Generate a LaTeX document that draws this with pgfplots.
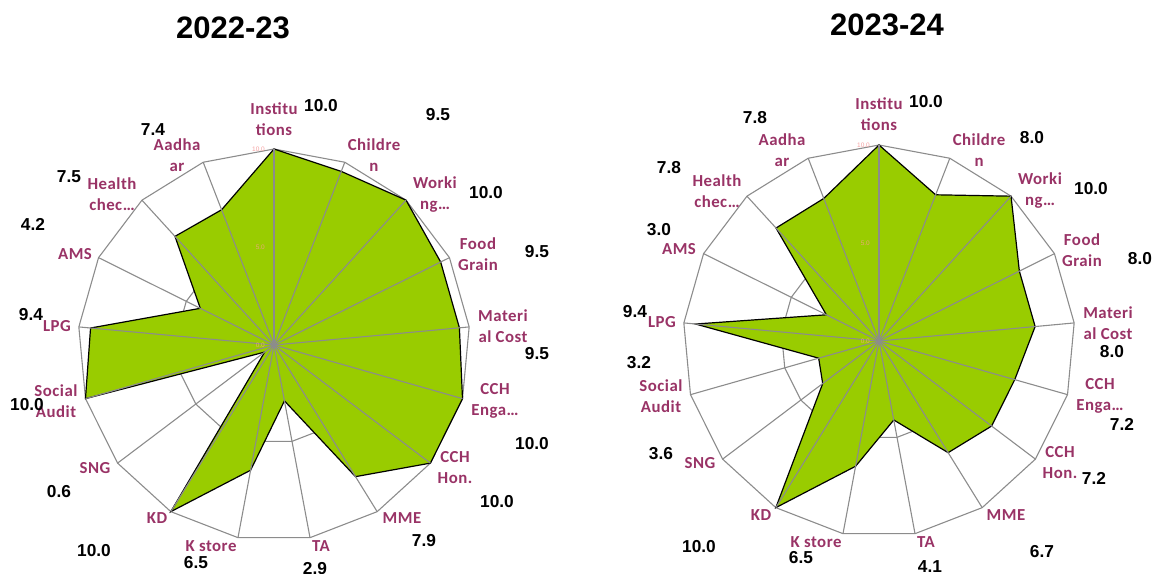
\documentclass[border=0pt]{standalone}
\usepackage{pgfplots}
\pgfplotsset{compat=1.18}
\usepackage{pgfplotstable}
\usepgfplotslibrary{polar}
\usepackage{fontspec}
\setmainfont{Liberation Sans}
\newfontfamily\calfont[LetterSpace=3]{Carlito}
\definecolor{fillgreen}{HTML}{99CC00}
\definecolor{catcol}{HTML}{993366}
\definecolor{gridgray}{HTML}{8C8C8C}
\definecolor{tickpink}{HTML}{F4A0A0}
\definecolor{tickorange}{HTML}{E8A878}

\pgfplotstableread{
angle v1 v2
90.0000 10.0 10.0
68.8235 9.5 8.0
47.6471 10.0 10.0
26.4706 9.5 8.0
5.2941 9.5 8.0
344.1176 10.0 7.2
322.9412 10.0 7.2
301.7647 7.9 6.7
280.5882 2.9 4.1
259.4118 6.5 6.5
238.2353 10.0 10.0
217.0588 0.6 3.6
195.8824 10.0 3.2
174.7059 9.4 9.4
153.5294 4.2 3.0
132.3529 7.5 7.8
111.1765 7.4 7.8
}\radardata

\pgfplotsset{
  radar/.style={hide axis, scale only axis, width=392pt, height=392pt,
    xmin=0, xmax=360, ymin=0, ymax=10, anchor=origin, clip=false},
  gridline/.style={gridgray, line width=1.1pt, mark=none},
}
\tikzset{
  cat/.style={font=\calfont\bfseries\fontsize{16.8}{21}\selectfont, text=catcol, align=center, inner sep=0pt},
  val/.style={font=\bfseries\fontsize{17.3}{20}\selectfont, inner sep=0pt},
  ttl/.style={font=\bfseries\fontsize{31}{36}\selectfont, inner sep=0pt},
  tk/.style={font=\fontsize{6.5}{7}\selectfont, inner sep=0pt, anchor=east, xshift=-9pt},
}

\newcommand\radar[1]{%
  \addplot[gridline] table[x=angle, y expr=10]{\radardata} -- cycle;
  \addplot[gridline] table[x=angle, y expr=5]{\radardata} -- cycle;
  \addplot[fill=fillgreen, draw=black, line width=1.2pt, mark=none] table[x=angle, y=#1]{\radardata} -- cycle;
  \pgfplotsinvokeforeach{90.0000,68.8235,47.6471,26.4706,5.2941,344.1176,322.9412,301.7647,280.5882,259.4118,238.2353,217.0588,195.8824,174.7059,153.5294,132.3529,111.1765}{%
    \addplot[gridline] coordinates {(##1,0) (##1,10)};}
  \node[tk, text=tickpink] at (axis cs:90,10) {10.0};
  \node[tk, text=tickorange] at (axis cs:90,5) {5.0};
  \node[tk, text=tickorange] at (axis cs:90,0) {0.0};
}

\begin{document}
\begin{tikzpicture}[x=1pt,y=1pt]
\useasboundingbox (0,0) rectangle (1153,-573);

\begin{polaraxis}[radar, at={(274pt,-345pt)}]
\radar{v1}
\end{polaraxis}

\begin{polaraxis}[radar, at={(879pt,-341pt)}]
\radar{v2}
\end{polaraxis}

% titles
\node[ttl] at (233,-28) {2022-23};
\node[ttl] at (887,-25) {2023-24};

% chart 1 category labels
\node[cat] at (274,-119) {Institu\\tions};
\node[cat] at (374,-155) {Childre\\n};
\node[cat] at (435,-195) {Worki\\ng…};
\node[cat] at (478,-254) {Food\\Grain};
\node[cat] at (503,-326) {Materi\\al Cost};
\node[cat] at (495,-401) {CCH\\Enga…};
\node[cat] at (455,-468) {CCH\\Hon.};
\node[cat] at (402,-518) {MME};
\node[cat] at (321,-546) {TA};
\node[cat] at (211,-546) {K store};
\node[cat] at (157,-518) {KD};
\node[cat] at (95,-468) {SNG};
\node[cat] at (56,-401) {Social\\Audit};
\node[cat] at (57,-326) {LPG};
\node[cat] at (75,-254) {AMS};
\node[cat] at (112,-194) {Health\\chec…};
\node[cat] at (177,-155) {Aadha\\ar};

% chart 1 value labels
\node[val] at (321,-106) {10.0};
\node[val] at (438,-115) {9.5};
\node[val] at (486,-193) {10.0};
\node[val] at (537,-252) {9.5};
\node[val] at (537,-354) {9.5};
\node[val] at (532,-444) {10.0};
\node[val] at (497,-502) {10.0};
\node[val] at (424,-541) {7.9};
\node[val] at (315,-569) {2.9};
\node[val] at (196,-563) {6.5};
\node[val] at (94,-551) {10.0};
\node[val] at (59,-492) {0.6};
\node[val] at (27,-405) {10.0};
\node[val] at (31,-315) {9.4};
\node[val] at (33,-224) {4.2};
\node[val] at (69,-177) {7.5};
\node[val] at (153,-130) {7.4};

% chart 2 category labels
\node[cat] at (879,-114) {Institu\\tions};
\node[cat] at (979,-150) {Childre\\n};
\node[cat] at (1040,-191) {Worki\\ng…};
\node[cat] at (1082,-250) {Food\\Grain};
\node[cat] at (1108,-323) {Materi\\al Cost};
\node[cat] at (1100,-396) {CCH\\Enga…};
\node[cat] at (1060,-463) {CCH\\Hon.};
\node[cat] at (1006,-515) {MME};
\node[cat] at (926,-542) {TA};
\node[cat] at (816,-542) {K store};
\node[cat] at (761,-515) {KD};
\node[cat] at (700,-463) {SNG};
\node[cat] at (661,-396) {Social\\Audit};
\node[cat] at (662,-322) {LPG};
\node[cat] at (679,-249) {AMS};
\node[cat] at (717,-191) {Health\\chec…};
\node[cat] at (782,-150) {Aadha\\ar};

% chart 2 value labels
\node[val] at (926,-102) {10.0};
\node[val] at (1032,-138) {8.0};
\node[val] at (1091,-189) {10.0};
\node[val] at (1140,-259) {8.0};
\node[val] at (1112,-352) {8.0};
\node[val] at (1122,-424) {7.2};
\node[val] at (1094,-478) {7.2};
\node[val] at (1042,-552) {6.7};
\node[val] at (930,-567) {4.1};
\node[val] at (801,-558) {6.5};
\node[val] at (699,-547) {10.0};
\node[val] at (661,-454) {3.6};
\node[val] at (639,-363) {3.2};
\node[val] at (635,-312) {9.4};
\node[val] at (659,-230) {3.0};
\node[val] at (669,-168) {7.8};
\node[val] at (755,-118) {7.8};
\end{tikzpicture}
\end{document}
